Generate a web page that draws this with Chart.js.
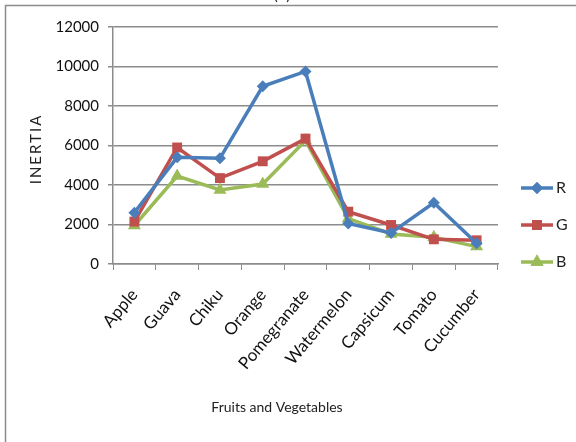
<!DOCTYPE html>
<html>
<head>
<meta charset="utf-8">
<script src="https://cdn.jsdelivr.net/npm/chart.js@4/dist/chart.umd.min.js"></script>
<style>
  html, body { margin: 0; padding: 0; background: #fff; }
  #wrap { width: 576px; height: 442px; }
</style>
</head>
<body>
<div id="wrap"><canvas id="chart" width="576" height="442"></canvas></div>
<script>
const categories = ['Apple', 'Guava', 'Chiku', 'Orange', 'Pomegranate', 'Watermelon', 'Capsicum', 'Tomato', 'Cucumber']
const seriesNames = ['R', 'G', 'B']
const rValues = [2600, 5400, 5350, 9000, 9750, 2050, 1570, 3100, 1050]
const gValues = [2150, 5900, 4350, 5200, 6350, 2650, 1975, 1250, 1200]
const bValues = [1950, 4450, 3750, 4050, 6250, 2300, 1520, 1350, 880]
const yTicks = [0, 2000, 4000, 6000, 8000, 10000, 12000]

const FONT = 'Lato, "Open Sans", sans-serif'

// frame, clipped title, axis titles and custom legend (line + marker like the original)
const extras = {
  id: 'extras',
  beforeDraw(chart) {
    const ctx = chart.ctx
    ctx.save()
    ctx.strokeStyle = '#8c8c8c'
    ctx.lineWidth = 1.5
    ctx.strokeRect(5.5, 5.5, 600, 500)
    ctx.fillStyle = '#333'
    ctx.font = '16px ' + FONT
    ctx.textAlign = 'center'
    ctx.textBaseline = 'bottom'
    ctx.fillText('(b)', 282, 3)
    ctx.restore()
  },
  afterDraw(chart) {
    const ctx = chart.ctx
    ctx.save()
    ctx.fillStyle = '#222'
    ctx.font = '14px ' + FONT
    ctx.textAlign = 'center'
    ctx.textBaseline = 'middle'
    ctx.fillText('Fruits and Vegetables', 277, 407)

    ctx.save()
    ctx.translate(36, 150)
    ctx.rotate(-Math.PI / 2)
    ctx.font = '15px ' + FONT
    ctx.letterSpacing = '2px'
    ctx.fillText('INERTIA', 1, 0)
    ctx.restore()

    const ys = [188, 225, 262]
    chart.data.datasets.forEach((ds, i) => {
      const y = ys[i]
      ctx.strokeStyle = ds.borderColor
      ctx.lineWidth = 3.5
      ctx.beginPath()
      ctx.moveTo(521, y)
      ctx.lineTo(553, y)
      ctx.stroke()
      ctx.fillStyle = ds.borderColor
      Chart.helpers.drawPoint(ctx, {
        pointStyle: ds.pointStyle,
        radius: ds.pointRadius,
        rotation: 0,
        borderWidth: 0
      }, 537, y)
      ctx.fill()
      ctx.fillStyle = '#222'
      ctx.textAlign = 'left'
      ctx.font = '16px ' + FONT
      ctx.fillText(ds.label, 556, y)
    })
    ctx.restore()
  }
}

const colors = ['#4a7ebb', '#c0504d', '#9bbb59']
const styles = ['rectRot', 'rect', 'triangle']
const radii = [6, 7, 7.5]
const values = [rValues, gValues, bValues]

new Chart(document.getElementById('chart'), {
  type: 'line',
  data: {
    labels: categories,
    datasets: seriesNames.map((name, i) => ({
      label: name,
      data: values[i],
      borderColor: colors[i],
      backgroundColor: colors[i],
      borderWidth: 3.5,
      pointStyle: styles[i],
      pointRadius: radii[i],
      pointBorderWidth: 0,
      tension: 0
    }))
  },
  options: {
    responsive: false,
    animation: false,
    events: [],
    layout: { padding: { left: 0, top: 27, right: 78, bottom: 0 } },
    plugins: { legend: { display: false }, tooltip: { enabled: false } },
    scales: {
      x: {
        offset: true,
        grid: { display: true, offset: true, drawOnChartArea: false, color: '#8c8c8c', tickLength: 6 },
        border: { color: '#8c8c8c', width: 1.5 },
        ticks: { color: '#111', font: { family: FONT, size: 17 }, minRotation: 50, maxRotation: 50, padding: 15, autoSkip: false },
        afterFit(scale) { scale.height = 178 }
      },
      y: {
        min: 0,
        max: 12000,
        afterBuildTicks(scale) { scale.ticks = yTicks.map((v) => ({ value: v })) },
        grid: { color: '#8c8c8c', lineWidth: 1.5, tickLength: 5 },
        border: { color: '#8c8c8c', width: 1.5 },
        ticks: { color: '#111', font: { family: FONT, size: 15 }, padding: 9, callback: (v) => String(v) },
        afterFit(scale) { scale.width = 113 }
      }
    }
  },
  plugins: [extras]
})
</script>
</body>
</html>
